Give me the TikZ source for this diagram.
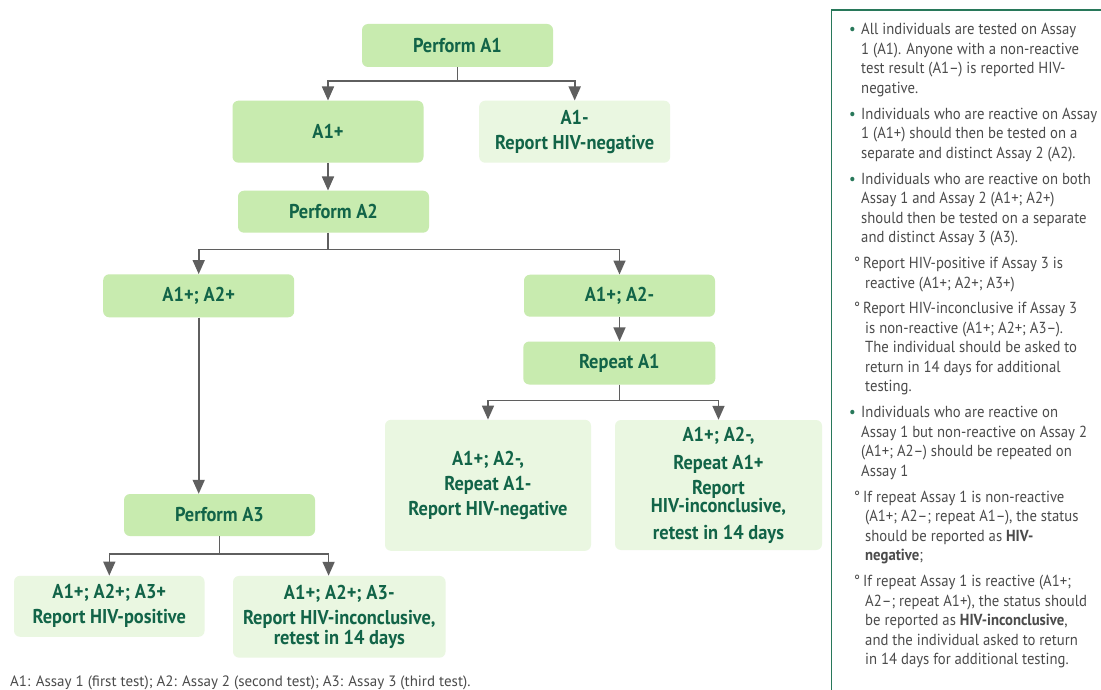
\documentclass[tikz,border=0pt]{standalone}
\usepackage{fontspec}
\usepackage{xcolor}
\usetikzlibrary{arrows.meta,positioning}

\newfontfamily\boxfont{PT Sans}[FakeStretch=0.92]
\newfontfamily\notefont{PT Sans}[FakeStretch=0.92]
\newfontfamily\footfont{PT Sans}[FakeStretch=1.0]

\definecolor{stepfill}{RGB}{200,235,175}
\definecolor{resultfill}{RGB}{234,247,225}
\definecolor{textgreen}{RGB}{18,100,72}
\definecolor{linegray}{RGB}{95,95,95}
\definecolor{panelgreen}{RGB}{40,120,90}
\definecolor{notegray}{RGB}{75,75,75}

\newcommand\bul{\textcolor{panelgreen}{\kern-1pt\textbullet}}
\newcommand\subhead{\llap{°\kern1pt}\kern2pt}
\newcommand\subline{\kern4pt}

\begin{document}
\begin{tikzpicture}[
    x=1pt, y=-1pt,
    testbox/.style={
        rectangle,
        rounded corners=6pt,
        fill=stepfill,
        text=textgreen,
        font=\boxfont\bfseries\fontsize{20}{25}\selectfont,
        align=center,
        inner sep=0pt,
        minimum width=191pt,
        minimum height=43pt
    },
    resultbox/.style={
        testbox,
        fill=resultfill
    },
    fork/.style={
        draw=linegray,
        line width=1.6pt
    },
    conn/.style={
        fork,
        -{Triangle[width=12pt,length=14pt]}
    },
    panelbox/.style={
        rectangle,
        draw=panelgreen,
        line width=1.5pt,
        minimum width=400pt,
        minimum height=720pt,
        inner sep=0pt
    },
    notes/.style={
        inner sep=0pt,
        text=notegray,
        font=\notefont\fontsize{16}{19.5}\selectfont
    },
    foot/.style={
        inner sep=0pt,
        text=notegray,
        font=\footfont\fontsize{15}{17}\selectfont
    }
  ]
\useasboundingbox (0,0) rectangle (1101,690);
\fill[white] (0,0) rectangle (1101,690);

% // first assay
\node [testbox] (pa1) at (457.5,45.5) {Perform A1};
\node [testbox, minimum height=62pt] (a1p) at (328,131.7) {A1+};
\node [resultbox, minimum height=62pt] (a1n) at (574.7,131.7) {A1-\\Report HIV-negative};

\draw [conn] (pa1.south) -- ++(0,14) -| (a1p.north);
\draw [conn] (pa1.south) -- ++(0,14) -| (a1n.north);

% // second assay
\node [testbox, minimum height=42pt] (pa2) at (333.5,211.7) {Perform A2};
\draw [conn] (a1p.south) -- (a1p.south |- pa2.north);

\node [testbox] (a12p) at (198.7,295.8) {A1+; A2+};
\node [testbox, minimum height=42pt] (a12n) at (619.5,295.7) {A1+; A2-};

\draw [conn] (pa2.south -| a1p.south) -- ++(0,16.5) -| (a12p.north);
\draw [conn] (pa2.south -| a1p.south) -- ++(0,16.5) -| (a12n.north);

% // repeat first assay
\node [testbox, minimum width=192pt] (ra1) at (619.3,363) {Repeat A1};
\draw [conn] (a12n.south) -- (a12n.south |- ra1.north);

\node [resultbox, minimum width=206pt, minimum height=131pt] (neg2) at (488,485.3)
 {A1+; A2-,\\Repeat A1-\\Report HIV-negative};
\node [resultbox, minimum width=207pt, minimum height=130pt] (inc2) at (718.5,485)
 {A1+; A2-,\\[3pt]Repeat A1+\\Report\\[-7pt]HIV-inconclusive,\\[2pt]retest in 14 days};

\draw [conn] (ra1.south) -- ++(0,15.7) -| (neg2.north);
\draw [conn] (ra1.south) -- ++(0,15.7) -| (inc2.north);

% // third assay
\node [testbox, minimum height=42pt] (pa3) at (219.5,515) {Perform A3};
\draw [conn] (a12p.south) -- (a12p.south |- pa3.north);

\node [resultbox, minimum width=190.5pt, minimum height=61pt] (pos) at (109.3,606.3)
 {A1+; A2+; A3+\\Report HIV-positive};
\node [resultbox, minimum width=212.5pt, minimum height=81.7pt] (inc3) at (339.3,616.8)
 {A1+; A2+; A3-\\Report HIV-inconclusive,\\[-5pt]retest in 14 days};

\draw [conn] (pa3.south) -- ++(0,18) -| (pos.north);
\draw [conn] (pa3.south) -- ++(0,18) -| ([xshift=-10.7pt]inc3.north);

\node [foot, anchor=west] (legend) at (10,683)
 {A1: Assay 1 (first test); A2: Assay 2 (second test); A3: Assay 3 (third test).};

% // the side panel
\node [panelbox, anchor=north west] (panel) at (830.5,9.3) {};
\node [notes, anchor=north west] (notelist) at ([shift={(19.5,11.7)}]panel.north west)
 {%
 \begin{tabular}{@{}p{11pt}@{}l@{}}
  \bul & All individuals are tested on Assay\\
       & 1 (A1). Anyone with a non-reactive\\
       & test result (A1–) is reported HIV-\\
       & negative.\\[6.4pt]
  \bul & Individuals who are reactive on Assay\\
       & 1 (A1+) should then be tested on a\\
       & separate and distinct Assay 2 (A2).\\[6.4pt]
  \bul & Individuals who are reactive on both\\
       & Assay 1 and Assay 2 (A1+; A2+)\\
       & should then be tested on a separate\\
       & and distinct Assay 3 (A3).\\[6.4pt]
       & \subhead Report HIV-positive if Assay 3 is\\
       & \subline reactive (A1+; A2+; A3+)\\[6.4pt]
       & \subhead Report HIV-inconclusive if Assay 3\\
       & \subline is non-reactive (A1+; A2+; A3–).\\
       & \subline The individual should be asked to\\
       & \subline return in 14 days for additional\\
       & \subline testing.\\[6.4pt]
  \bul & Individuals who are reactive on\\
       & Assay 1 but non-reactive on Assay 2\\
       & (A1+; A2–) should be repeated on\\
       & Assay 1\\[6.4pt]
       & \subhead If repeat Assay 1 is non-reactive\\
       & \subline (A1+; A2–; repeat A1–), the status\\
       & \subline should be reported as \textbf{HIV-}\\
       & \subline \textbf{negative};\\[6.4pt]
       & \subhead If repeat Assay 1 is reactive (A1+;\\
       & \subline A2–; repeat A1+), the status should\\
       & \subline be reported as \textbf{HIV-inconclusive},\\
       & \subline and the individual asked to return\\
       & \subline in 14 days for additional testing.
 \end{tabular}
 };

\end{tikzpicture}
\end{document}
